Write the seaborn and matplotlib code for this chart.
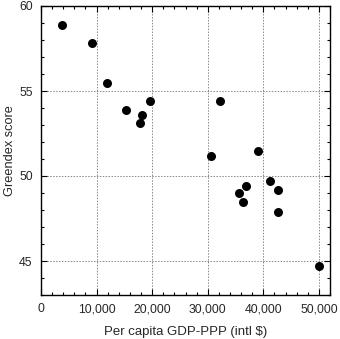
import matplotlib
matplotlib.use("Agg")
import matplotlib.pyplot as plt
import seaborn as sns
import pandas as pd
from matplotlib.ticker import MultipleLocator, FuncFormatter

gdp = [3770, 9160, 11850, 15260, 18130, 17770, 19570, 32260, 30520, 38960,
       35550, 36930, 36270, 41170, 42610, 42670, 49970]
greendex = [58.9, 57.8, 55.5, 53.9, 53.6, 53.1, 54.4, 54.4, 51.2, 51.5,
            49.0, 49.4, 48.5, 49.7, 49.2, 47.9, 44.7]

df = pd.DataFrame({"gdp": gdp, "greendex": greendex})

sns.set_style("ticks")
plt.rcParams['font.family'] = ['Liberation Sans', 'DejaVu Sans']

fig = plt.figure(figsize=(3.4, 3.39), dpi=100)
ax = fig.add_axes([41/340, 1 - 295/339, (330-41)/340, (295-6)/339])

sns.scatterplot(data=df, x="gdp", y="greendex", ax=ax, color="black",
                s=42, edgecolor="black", linewidth=0, zorder=3)

ax.set_xlim(0, 52000)
ax.set_ylim(43, 60)
ax.xaxis.set_major_locator(MultipleLocator(10000))
ax.xaxis.set_minor_locator(MultipleLocator(2000))
ax.yaxis.set_major_locator(MultipleLocator(5))
ax.yaxis.set_minor_locator(MultipleLocator(1))
ax.xaxis.set_major_formatter(FuncFormatter(lambda v, p: f"{int(v):,}"))

ax.tick_params(which="both", direction="in", top=True, right=True,
               labelsize=8.8, color="black")
ax.tick_params(which="major", length=4, width=0.8, pad=6)
ax.tick_params(which="minor", length=2.5, width=0.8)

ax.grid(True, which="major", linestyle=(0, (1.5, 1.5)), color="#888888",
        linewidth=0.7)
for s in ax.spines.values():
    s.set_color("black")
    s.set_linewidth(1.0)

ax.set_xlabel("Per capita GDP-PPP (intl $)", fontsize=9.5, labelpad=8)
ax.set_ylabel("Greendex score", fontsize=9.2, labelpad=2)

fig.savefig("out.png", dpi=100)
